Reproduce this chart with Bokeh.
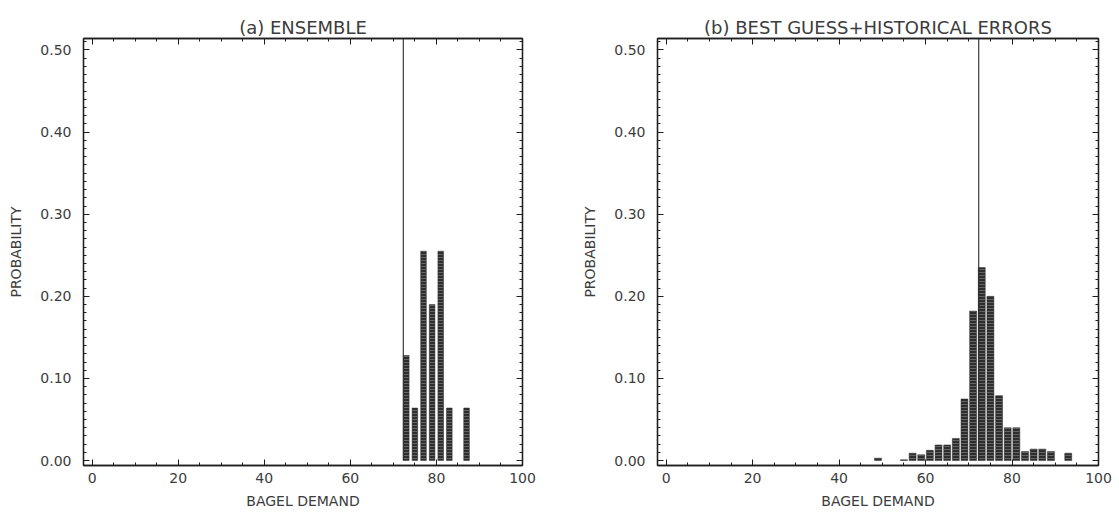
from bokeh.plotting import figure
from bokeh.layouts import row
from bokeh.models import (LinearAxis, FixedTicker, NumeralTickFormatter,
                          CustomJSTickFormatter, Range1d, ColumnDataSource)
from bokeh.embed import file_html
from bokeh.resources import INLINE

# ---- data ----
demand_a = [73, 75, 77, 79, 81, 83, 87]
prob_a = [0.128, 0.064, 0.255, 0.19, 0.255, 0.064, 0.064]
best_guess_a = 72.3

demand_b = [49, 55, 57, 59, 61, 63, 65, 67, 69, 71, 73, 75, 77, 79, 81, 83, 85, 87, 89, 93]
prob_b = [0.003, 0.001, 0.009, 0.007, 0.0125, 0.019, 0.019, 0.027, 0.075, 0.182,
          0.235, 0.2, 0.079, 0.04, 0.04, 0.011, 0.014, 0.014, 0.011, 0.009]
best_guess_b = 72.3

x_major = [0, 20, 40, 60, 80, 100]
x_minor = list(range(0, 101, 5))
y_major = [0.0, 0.1, 0.2, 0.3, 0.4, 0.5]
y_minor = [i / 100 for i in range(0, 52)]

titles = ["(a) ENSEMBLE", "(b) BEST GUESS+HISTORICAL ERRORS"]
x_label = "BAGEL DEMAND"
y_label = "PROBABILITY"

FONT = "DejaVu Sans"
TXT = "#3c3c3c"
INK = "#1e1e1e"


def style_axis(ax, show_labels):
    ax.axis_line_color = INK
    ax.axis_line_width = 1.3
    ax.major_tick_line_color = INK
    ax.minor_tick_line_color = INK
    ax.major_tick_in = 6
    ax.major_tick_out = 0
    ax.minor_tick_in = 3
    ax.minor_tick_out = 0
    ax.major_label_text_font = FONT
    ax.major_label_text_color = TXT
    ax.major_label_text_font_size = "14px"
    ax.axis_label_text_font = FONT
    ax.axis_label_text_color = TXT
    ax.axis_label_text_font_size = "14px"
    ax.axis_label_text_font_style = "normal"
    if not show_labels:
        ax.formatter = CustomJSTickFormatter(code="return ''")
        ax.major_label_text_font_size = "1px"
        ax.major_label_standoff = 0


def make_panel(title, xs, ys, best, bar_w, width, height, bl, br, bt, bb):
    p = figure(width=width, height=height, output_backend="svg", toolbar_location=None,
               x_range=Range1d(-2, 100), y_range=Range1d(-0.006, 0.514),
               min_border_left=bl, min_border_right=br, min_border_top=bt,
               min_border_bottom=bb, background_fill_color="white",
               border_fill_color="white")
    p.grid.visible = False
    p.outline_line_color = INK
    p.outline_line_width = 1.3

    p.title.text = title
    p.title.align = "center"
    p.title.text_font = FONT
    p.title.text_font_size = "18px"
    p.title.text_font_style = "normal"
    p.title.text_color = TXT
    p.title.standoff = 2

    p.xaxis.ticker = FixedTicker(ticks=x_major, minor_ticks=x_minor)
    p.yaxis.ticker = FixedTicker(ticks=y_major, minor_ticks=y_minor)
    p.xaxis.axis_label = x_label
    p.yaxis.axis_label = y_label
    p.yaxis.formatter = NumeralTickFormatter(format="0.00")
    p.xaxis.formatter = NumeralTickFormatter(format="0")
    style_axis(p.xaxis[0], True)
    style_axis(p.yaxis[0], True)
    p.xaxis.major_label_standoff = 7
    p.xaxis.axis_label_standoff = 7
    p.yaxis.major_label_standoff = 12
    p.yaxis.axis_label_standoff = 13

    top = LinearAxis(ticker=FixedTicker(ticks=x_major, minor_ticks=x_minor))
    right = LinearAxis(ticker=FixedTicker(ticks=y_major, minor_ticks=y_minor))
    style_axis(top, False)
    style_axis(right, False)
    p.add_layout(top, "above")
    p.add_layout(right, "right")

    src = ColumnDataSource(dict(x=xs, top=ys))
    p.vbar(x="x", top="top", bottom=0, width=bar_w, source=src,
           fill_color="#2e2e2e", line_color="#2e2e2e", line_width=0.5,
           hatch_pattern="horizontal_line", hatch_color="#8a8a8a",
           hatch_scale=3, hatch_weight=0.6)

    line_src = ColumnDataSource(dict(x0=[best], y0=[0.0], x1=[best], y1=[0.514]))
    p.segment(x0="x0", y0="y0", x1="x1", y1="y1", source=line_src,
              line_color="#2a2a2a", line_width=1.1)
    return p


pa = make_panel(titles[0], demand_a, prob_a, best_guess_a, 1.3,
                552, 515, 83, 30, 38, 50)
pb = make_panel(titles[1], demand_b, prob_b, best_guess_b, 1.6,
                561, 515, 105, 15, 38, 50)

layout = row(pa, pb)
open("out.html", "w").write(file_html(layout, INLINE))
